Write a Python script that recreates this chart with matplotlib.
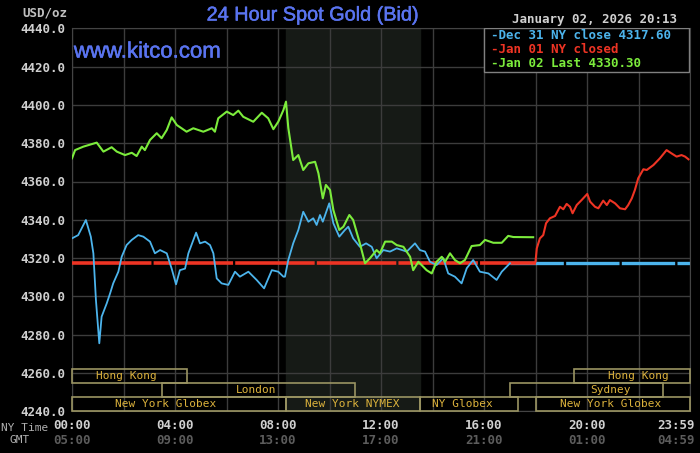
import matplotlib
matplotlib.use("Agg")
import matplotlib.pyplot as plt
from matplotlib.patches import Rectangle
import matplotlib.transforms as mtransforms
import matplotlib.patheffects as pe

# hours after midnight NY time, prices in USD/oz
dec31_hours = [0.00, 0.24, 0.54, 0.73, 0.83, 0.93, 1.06, 1.15, 1.35, 1.48, 1.60, 1.80, 1.93,
               2.12, 2.32, 2.57, 2.77, 3.03, 3.22, 3.42, 3.68, 3.87, 4.04, 4.19, 4.39, 4.52,
               4.82, 4.97, 5.17, 5.36, 5.49, 5.62, 5.81, 6.07, 6.33, 6.52, 6.85, 7.17, 7.46,
               7.76, 8.01, 8.21, 8.27, 8.40, 8.59, 8.79, 8.98, 9.18, 9.37, 9.50, 9.63, 9.74,
               9.99, 10.15, 10.38, 10.60, 10.73, 10.92, 11.18, 11.42, 11.64, 11.83, 12.09,
               12.35, 12.61, 13.00, 13.32, 13.51, 13.71, 13.90, 14.16, 14.42, 14.61, 14.87,
               15.13, 15.33, 15.58, 15.84, 16.17, 16.49, 16.69, 17.01]
dec31_prices = [4330.3, 4332.0, 4339.9, 4331.2, 4322.5, 4298.0, 4275.5, 4289.4, 4296.4, 4301.6,
                4306.8, 4312.9, 4320.7, 4326.8, 4329.5, 4332.0, 4331.2, 4328.6, 4322.5, 4324.2,
                4322.5, 4314.5, 4306.3, 4313.7, 4314.5, 4322.5, 4333.3, 4327.7, 4328.6, 4326.8,
                4322.5, 4309.4, 4306.8, 4306.0, 4312.9, 4310.3, 4312.9, 4308.6, 4304.2, 4313.7,
                4312.9, 4310.3, 4310.3, 4319.0, 4327.7, 4334.7, 4344.2, 4339.0, 4340.8, 4337.3,
                4342.5, 4339.0, 4348.6, 4338.2, 4331.2, 4334.7, 4336.4, 4330.3, 4325.9, 4327.7,
                4325.9, 4319.9, 4324.2, 4323.4, 4325.1, 4323.4, 4327.7, 4324.2, 4323.4, 4318.1,
                4316.4, 4319.9, 4312.0, 4310.3, 4306.8, 4314.7, 4319.0, 4312.9, 4312.0, 4308.6,
                4312.9, 4317.3]
dec31_close = 4317.60

jan01_hours = [18.00, 18.05, 18.17, 18.30, 18.41, 18.56, 18.76, 18.95, 19.08, 19.21, 19.34,
               19.44, 19.60, 19.79, 20.01, 20.12, 20.31, 20.44, 20.63, 20.77, 20.89, 21.09,
               21.28, 21.48, 21.60, 21.74, 21.86, 21.99, 22.19, 22.32, 22.58, 22.83, 23.09,
               23.28, 23.48, 23.67, 23.81, 23.94]
jan01_prices = [4318.1, 4325.1, 4330.3, 4332.0, 4338.2, 4340.8, 4342.0, 4346.8, 4345.5, 4348.3,
                4346.8, 4343.4, 4347.7, 4350.3, 4353.5, 4349.5, 4346.8, 4346.0, 4350.0, 4347.7,
                4350.3, 4348.6, 4346.0, 4345.5, 4347.7, 4351.2, 4355.6, 4361.7, 4366.4, 4366.0,
                4368.6, 4372.1, 4376.4, 4374.7, 4373.0, 4373.8, 4373.0, 4371.6]
jan01_closed_end = 18.0

jan02_hours = [0.00, 0.12, 0.44, 0.96, 1.22, 1.54, 1.74, 2.06, 2.32, 2.51, 2.71, 2.83, 3.03,
               3.29, 3.48, 3.68, 3.87, 4.07, 4.45, 4.71, 5.10, 5.43, 5.55, 5.68, 6.01, 6.26,
               6.46, 6.65, 7.04, 7.37, 7.62, 7.82, 8.01, 8.21, 8.31, 8.40, 8.59, 8.79, 8.98,
               9.18, 9.44, 9.57, 9.74, 9.86, 10.02, 10.15, 10.38, 10.54, 10.77, 10.92, 11.18,
               11.38, 11.57, 11.83, 11.96, 12.16, 12.42, 12.61, 12.87, 13.13, 13.25, 13.45,
               13.77, 13.97, 14.16, 14.36, 14.49, 14.68, 14.87, 15.07, 15.26, 15.52, 15.84,
               16.04, 16.36, 16.69, 16.94, 17.14, 17.91]
jan02_prices = [4372.1, 4376.4, 4378.2, 4380.3, 4375.6, 4377.9, 4375.6, 4373.8, 4375.0, 4373.3,
                4378.2, 4376.4, 4381.7, 4385.2, 4382.6, 4386.9, 4393.5, 4389.5, 4386.0, 4387.8,
                4386.0, 4387.8, 4386.0, 4393.0, 4396.5, 4394.7, 4397.0, 4393.8, 4391.2, 4395.9,
                4393.0, 4387.3, 4391.2, 4397.3, 4401.7, 4388.0, 4371.2, 4373.8, 4366.0, 4369.5,
                4370.3, 4364.3, 4351.2, 4358.2, 4355.6, 4345.1, 4334.7, 4336.4, 4342.5, 4339.9,
                4327.7, 4317.3, 4319.9, 4324.2, 4322.5, 4328.6, 4328.6, 4326.8, 4325.9, 4320.7,
                4313.7, 4318.1, 4313.7, 4312.0, 4318.1, 4320.7, 4318.1, 4322.5, 4319.0, 4317.3,
                4319.0, 4326.3, 4326.8, 4329.5, 4328.0, 4328.0, 4331.6, 4331.0, 4330.9]
jan02_last = 4330.30

price_ticks = [4240, 4260, 4280, 4300, 4320, 4340, 4360, 4380, 4400, 4420, 4440]
hour_ticks = [0, 4, 8, 12, 16, 20, 23.46]
ny_labels = ["00:00", "04:00", "08:00", "12:00", "16:00", "20:00", "23:59"]
gmt_labels = ["05:00", "09:00", "13:00", "17:00", "21:00", "01:00", "04:59"]

# trading sessions: name, start hour, end hour, row (0 = top), label centre
session_names = ["Hong Kong", "London", "New York Globex", "New York NYMEX", "NY Globex",
                 "Sydney", "New York Globex", "Hong Kong"]
session_start = [0, 3.5, 0, 8.33, 13.5, 17.0, 18.0, 19.5]
session_end = [4.47, 11.0, 8.33, 13.5, 17.33, 22.94, 24.0, 24.0]
session_row = [0, 1, 2, 2, 2, 1, 2, 0]
session_label_at = [2.12, 7.15, 3.65, 10.87, 15.17, 20.93, 20.93, 22.0]

pit_start, pit_end = 8.33, 13.5

BLUE = "#4cb4ec"
RED = "#ee3424"
GREEN = "#7cec3c"
TITLE_BLUE = "#5a74f0"
MONO = "DejaVu Sans Mono"

fig = plt.figure(figsize=(7, 4.53), dpi=100, facecolor="black")
ax = fig.add_axes([72 / 700, 1 - 411.3 / 453, 618 / 700, 383 / 453])
ax.set_facecolor("black")
ax.set_xlim(0, 24)
ax.set_ylim(4240, 4440)

ax.axvspan(pit_start, pit_end, color="#161a16", zorder=0)
ax.set_xticks(range(0, 25, 2))
ax.set_yticks(price_ticks)
ax.grid(True, color="#3c3c3c", lw=1, zorder=1)
ax.set_xticklabels([])
ax.set_yticklabels(["%.1f" % p for p in price_ticks], color="#cfcfcf",
                   fontfamily=MONO, fontweight="bold", fontsize=9)
ax.tick_params(length=0, pad=5)
for s in ax.spines.values():
    s.set_color("#444444")

# flat closing lines
ax.plot([0, jan01_closed_end], [dec31_close, dec31_close], color=RED, lw=2.6,
        ls=(0, (22, 0.6)), solid_capstyle="butt", zorder=3)
ax.plot([dec31_hours[-1], 24], [dec31_close, dec31_close], color=BLUE, lw=2.4,
        ls=(0, (16, 0.7)), zorder=2)

ax.plot(dec31_hours, dec31_prices, color=BLUE, lw=1.3, zorder=4)
ax.plot(jan02_hours, jan02_prices, color=GREEN, lw=1.5, zorder=5)
ax.plot(jan01_hours, jan01_prices, color=RED, lw=1.5, zorder=5)

# session boxes
row_h = 14 / 383
trans = mtransforms.blended_transform_factory(ax.transData, ax.transAxes)
for name, a, b, r, lx in zip(session_names, session_start, session_end, session_row, session_label_at):
    y0 = 3 * row_h - (r + 1) * row_h
    ax.add_patch(Rectangle((a, y0), b - a, row_h, transform=trans, fill=False,
                           edgecolor="#9a9462", lw=1.2, zorder=6, clip_on=False))
    ax.text(lx, y0 + row_h / 2, name, transform=trans, ha="center", va="center",
            color="#dcb23c", fontfamily=MONO, fontsize=8, zorder=7)

# time labels (NY + GMT)
for h, ny, gmt in zip(hour_ticks, ny_labels, gmt_labels):
    ax.text(h, -0.036, ny, transform=trans, ha="center", va="center", color="#d0d0d0",
            fontfamily=MONO, fontweight="bold", fontsize=9, clip_on=False)
    ax.text(h, -0.077, gmt, transform=trans, ha="center", va="center", color="#5c5c5c",
            fontfamily=MONO, fontweight="bold", fontsize=9, clip_on=False)
fig.text(48 / 700, 1 - 428 / 453, "NY Time", ha="right", va="center", color="#b0b0b0",
         fontfamily=MONO, fontsize=8)
fig.text(20 / 700, 1 - 440 / 453, "GMT", ha="center", va="center", color="#b0b0b0",
         fontfamily=MONO, fontsize=8)

# legend box
ax.add_patch(Rectangle((0.667, 0.886), 0.331, 0.114, transform=ax.transAxes,
                       facecolor="black", edgecolor="#808080", lw=1, zorder=8))
legend_lines = ["-Dec 31 NY close %.2f" % dec31_close, "-Jan 01 NY closed",
                "-Jan 02 Last %.2f" % jan02_last]
for i, (txt, c) in enumerate(zip(legend_lines, [BLUE, RED, GREEN])):
    ax.text(0.678, 0.9825 - i * 0.0367, txt, transform=ax.transAxes, ha="left", va="center",
            color=c, fontfamily=MONO, fontweight="bold", fontsize=9, zorder=9)

thick = [pe.withStroke(linewidth=0.35, foreground=TITLE_BLUE)]
fig.text(313 / 700, 1 - 15 / 453, "24 Hour Spot Gold (Bid)", ha="center", va="center",
         color=TITLE_BLUE, fontfamily="Liberation Sans", fontsize=14.3, path_effects=thick)
ax.text(0.003, 0.938, "www.kitco.com", transform=ax.transAxes, ha="left", va="center",
        color=TITLE_BLUE, fontfamily="Liberation Sans", fontsize=16, path_effects=thick)
fig.text(677 / 700, 1 - 20 / 453, "January 02, 2026 20:13", ha="right", va="center",
         color="#d0d0d0", fontfamily=MONO, fontweight="bold", fontsize=9)
fig.text(67 / 700, 1 - 13 / 453, "USD/oz", ha="right", va="center", color="#c0c0c0",
         fontfamily=MONO, fontweight="bold", fontsize=9)

fig.savefig("out.png", dpi=100, facecolor="black")
